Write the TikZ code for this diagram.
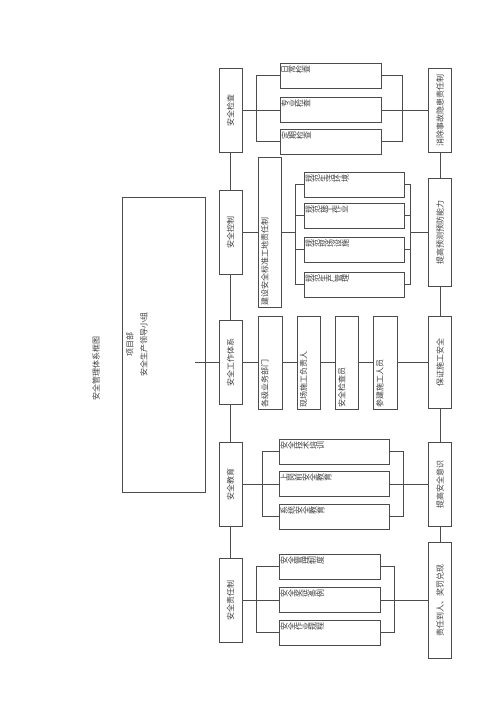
\documentclass[tikz,border=0pt]{standalone}
\usepackage{fontspec}
\usepackage{graphicx}
\newfontfamily\cjk{Noto Sans CJK SC}
\newcommand{\rotchars}[1]{\ifx#1\relax\else\rotatebox{90}{#1}\expandafter\rotchars\fi}
\newcommand{\rowtext}[3]{\parbox[c][#2][t]{#1}{\vspace*{2pt}\noindent\hspace*{1.5pt}\rotchars #3\relax}}
\newcommand{\uptext}[3]{\rotatebox{90}{\parbox[c][#2][t]{#1}{\vspace*{3pt}\noindent\hspace*{2pt}#3}}}
\tikzset{
	line/.style={draw=black!70, line width=0.7pt},
	box/.style={draw=black!70, line width=0.7pt, rectangle, inner sep=0pt, text=black!75, font=\cjk\fontsize{8}{9.6}\selectfont},
	mainbox/.style={box, minimum width=23pt, minimum height=84pt},
	goalbox/.style={box, minimum width=23pt}
}
\begin{document}
\begin{tikzpicture}[x=1pt, y=-1pt]
	\useasboundingbox[fill=white] (0,0) rectangle (500,707);
	
	% title and leading group
	\node[text=black!75, font=\cjk\fontsize{8}{9.6}\selectfont] (title) at (96,368) {\rotatebox{90}{安全管理体系框图}};
	\node[box] (lead) at (163.5,344.5) {\rotatebox{90}{\parbox[c][83pt][t]{295pt}{\centering\fontsize{8}{14}\selectfont\vspace*{4pt}项目部\\安全生产领导小组}}};
	\coordinate (leadR) at (195,362.5);
	
	% main column
	\node[mainbox] (chk) at (230.5,110) {\rotatebox{90}{安全检查}};
	\node[mainbox] (ctl) at (230.5,232) {\rotatebox{90}{安全控制}};
	\node[mainbox] (work) at (230.5,362.5) {\rotatebox{90}{安全工作体系}};
	\node[mainbox] (edu) at (230.5,484) {\rotatebox{90}{安全教育}};
	\node[mainbox] (duty) at (230.5,600) {\rotatebox{90}{安全责任制}};
	
	% goal column
	\node[goalbox, minimum height=84pt] (fix) at (440,110) {\rotatebox{90}{消除事故隐患责任制}};
	\node[goalbox, minimum height=108pt] (prev) at (440,232) {\rotatebox{90}{提高预测预防能力}};
	\node[goalbox, minimum height=92pt] (safe) at (440,362.5) {\rotatebox{90}{保证施工安全}};
	\node[goalbox, minimum height=84pt] (aware) at (440,484) {\rotatebox{90}{提高安全意识}};
	\node[goalbox, minimum height=116pt] (resp) at (440,600) {\rotatebox{90}{责任到人、奖罚兑现}};
	
	% inspection
	\node[box] (c1) at (330.5,75.5) {\rowtext{101pt}{25pt}{日常检查}};
	\node[box] (c2) at (330.5,110) {\rowtext{101pt}{25pt}{专业检查}};
	\node[box] (c3) at (330.5,141.5) {\rowtext{101pt}{25pt}{定期检查}};
	
	% control
	\node[box] (std) at (269.5,232) {\uptext{150pt}{23pt}{建设安全标准工地责任制}};
	\node[box] (s1) at (354,184.5) {\rowtext{100pt}{25pt}{规范生活环境}};
	\node[box] (s2) at (354,215.5) {\rowtext{100pt}{25pt}{规范施工作业}};
	\node[box] (s3) at (354,249.5) {\rowtext{100pt}{25pt}{规范现场设施}};
	\node[box] (s4) at (354,284.5) {\rowtext{100pt}{25pt}{规范生产管理}};
	\coordinate (ctlL) at (296,232);
	\coordinate (ctlR) at (410,232);
	
	% work system
	\node[box] (dept) at (270,362.5) {\uptext{93pt}{24pt}{各级业务部门}};
	\node[box] (mgr) at (308.5,362.5) {\uptext{93pt}{23pt}{现场施工负责人}};
	\node[box] (insp) at (346.5,362.5) {\uptext{93pt}{23pt}{安全检查员}};
	\node[box] (crew) at (385,362.5) {\uptext{93pt}{24pt}{参建施工人员}};
	
	% education
	\node[box] (e1) at (334,451.5) {\rowtext{110pt}{25pt}{安全技术培训}};
	\node[box] (e2) at (334,484) {\rowtext{110pt}{25pt}{上岗前安全教育}};
	\node[box] (e3) at (334,516.5) {\rowtext{110pt}{25pt}{系统安全教育}};
	
	% responsibility
	\node[box] (d1) at (329.5,566.5) {\rowtext{101pt}{25pt}{安全管理制度}};
	\node[box] (d2) at (329.5,600) {\rowtext{101pt}{25pt}{安全奖惩条例}};
	\node[box] (d3) at (329.5,632.5) {\rowtext{101pt}{25pt}{安全作业规程}};
	
	% trunks
	\draw[line] (chk) -- (ctl) -- (work) -- (edu) -- (duty);
	\draw[line] (fix) -- (prev) -- (safe) -- (aware) -- (resp);
	\draw[line] (leadR) -- (work.west);
	
	% inspection links
	\draw[line] (chk) -- (c2);
	\draw[line] (c1.west) -- ++(-23,0) |- (c3.west);
	\draw[line] (c1.east) -- ++(21,0) |- (c3.east);
	\draw[line] (c2) -- (fix);
	
	% control links
	\draw[line] (ctl) -- (std);
	\draw[line] (std.east) -- (ctlL);
	\draw[line] (s1.west) -- ++(-8,0) |- (s4.west);
	\draw[line] (s1.east) -- ++(6,0) |- (s4.east);
	\foreach \s in {s2,s3} {
		\draw[line] (\s.west) -- ++(-8,0);
		\draw[line] (\s.east) -- ++(6,0);
	}
	\draw[line] (ctlR) -- (prev.west);
	
	% work links
	\draw[line] (work) -- (dept) -- (mgr) -- (insp) -- (crew) -- (safe);
	
	% education links
	\draw[line] (edu) -- (e2);
	\draw[line] (e1.west) -- ++(-16,0) |- (e3.west);
	\draw[line] (e1.east) -- ++(14,0) |- (e3.east);
	\draw[line] (e2) -- (aware);
	
	% responsibility links
	\draw[line] (duty) -- (d2);
	\draw[line] (d1.west) -- ++(-22,0) |- (d3.west);
	\draw[line] (d1.east) -- ++(14,0) |- (d3.east);
	\draw[line] (d2) -- (resp);
\end{tikzpicture}
\end{document}
